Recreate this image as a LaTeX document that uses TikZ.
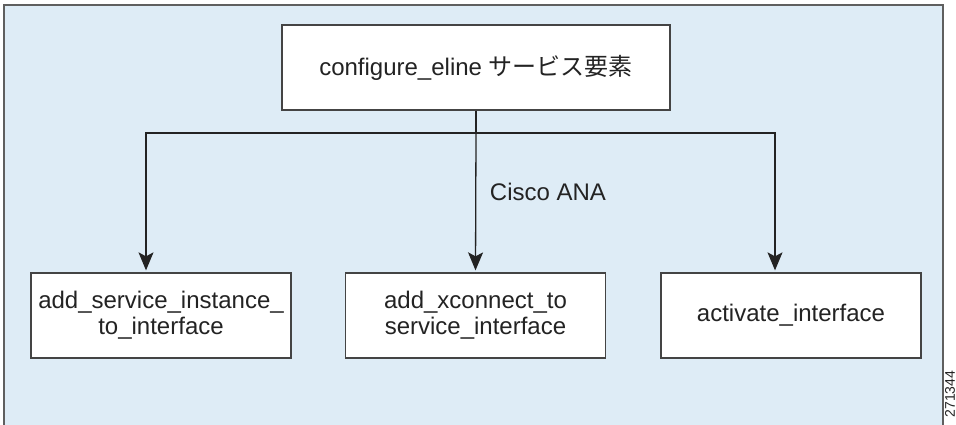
\documentclass[tikz,border=0pt]{standalone}
\usepackage{fontspec}
\setmainfont{Liberation Sans}
\newfontfamily\jpfont{Noto Sans CJK JP}
\usetikzlibrary{arrows.meta,positioning}
\definecolor{paleblue}{RGB}{222,236,246}
\definecolor{frame}{RGB}{95,95,95}
\definecolor{ink}{RGB}{35,35,35}
\tikzset{
  >={Stealth[length=18pt,width=15pt,inset=4pt]},
  stepbox/.style={draw=ink!85,fill=white,line width=1.3pt,minimum width=260pt,
    minimum height=85pt,align=center,text=ink,font=\fontsize{24}{26}\selectfont},
  link/.style={line width=1.3pt,draw=ink},
  tag/.style={text=ink,font=\fontsize{24}{26}\selectfont},
}

\begin{document}
\begin{tikzpicture}[x=1pt,y=-1pt]
  \useasboundingbox (0,0) rectangle (956,424);
  % backdrop panel
  \draw[frame,fill=paleblue,line width=1.5pt] (4,5) rectangle (943,460);

  \node[stepbox,minimum width=388pt] (eline) at (476,67.5) {configure\_eline {\jpfont サービス要素}};
  \node[stepbox] (inst) at (161,315.5) {add\_service\_instance\_\\to\_interface};
  \node[stepbox] (xcon) at (475.5,315.5) {add\_xconnect\_to\\service\_interface};
  \node[stepbox] (act) at (791,315.5) {activate\_interface};

  % fan-out to the three calls
  \coordinate (split) at (476,133);
  \draw[link] (eline.south) -- (split);
  \draw[link,->,shorten >=2pt] (split) -| ([xshift=-15pt]inst.north);
  \draw[link,->,shorten >=2pt] (split) -- (xcon.north);
  \draw[link,->,shorten >=2pt] (split) -| ([xshift=-16pt]act.north);

  \node[tag] (ana) at (548,192) {Cisco ANA};
  \node[rotate=90,text=ink,font=\fontsize{14}{16}\selectfont] (figid) at (950,394) {271344};
\end{tikzpicture}
\end{document}
